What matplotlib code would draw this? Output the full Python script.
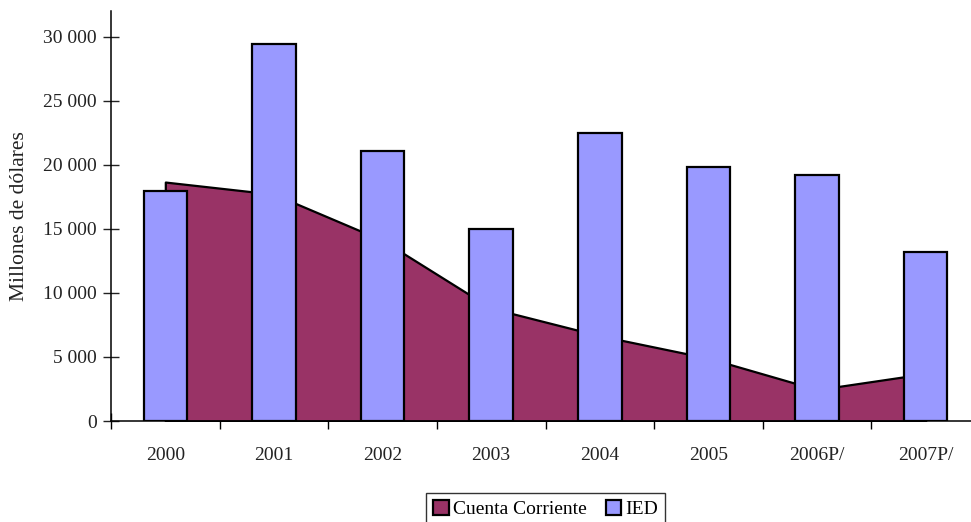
import matplotlib.pyplot as plt
from matplotlib.patches import Patch
import numpy as np

years = ['2000', '2001', '2002', '2003', '2004', '2005', '2006P/', '2007P/']
cuenta_corriente = [18650, 17700, 14100, 8800, 6650, 4900, 2450, 3700]
ied = [17930, 29420, 21100, 14980, 22450, 19860, 19210, 13160]
y_ticks = [0, 5000, 10000, 15000, 20000, 25000, 30000]

plt.rcParams['font.family'] = ['Liberation Serif', 'DejaVu Serif']

fig = plt.figure(figsize=(9.71, 5.22), dpi=100)
# the plot area runs a little past the right edge of the picture
ax = fig.add_axes([111 / 971, 101 / 522, 869 / 971, 410 / 522])

x = np.arange(len(years))
ax.fill_between(x, 0, cuenta_corriente, facecolor='#993366', edgecolor='black',
                linewidth=1.6, zorder=2)
ax.bar(x, ied, width=0.4, color='#9999FF', edgecolor='black', linewidth=1.6, zorder=3)

ax.set_xlim(-0.5, len(years) - 0.5)
ax.set_ylim(0, 32000)

ax.set_yticks(y_ticks)
ax.set_yticklabels(['{:,}'.format(v).replace(',', ' ') for v in y_ticks])
ax.set_xticks(np.arange(-0.5, len(years)), minor=False)
ax.set_xticklabels([])
ax.set_xticks(x, minor=True)
ax.set_xticklabels(years, minor=True)

ax.tick_params(axis='y', direction='inout', length=12, width=1, labelsize=14,
               pad=4, colors='#222222', labelcolor='#222222')
ax.tick_params(axis='x', which='major', direction='inout', length=12, width=1)
ax.tick_params(axis='x', which='minor', length=0, labelsize=14, pad=19,
               labelcolor='#222222')

for s in ['top', 'right']:
    ax.spines[s].set_visible(False)
for s in ['left', 'bottom']:
    ax.spines[s].set_linewidth(1.1)

ax.set_ylabel('Millones de dólares', fontsize=15.5, labelpad=10, color='#222222')

handles = [Patch(facecolor='#993366', edgecolor='black', linewidth=1.6),
           Patch(facecolor='#9999FF', edgecolor='black', linewidth=1.6)]
leg = ax.legend(handles, ['Cuenta Corriente', 'IED'], loc='upper center',
                bbox_to_anchor=(0.5, -0.176), ncol=2, fontsize=14, frameon=True,
                fancybox=False, edgecolor='black', handlelength=0.8, handleheight=0.8,
                handletextpad=0.2, columnspacing=1.0, borderpad=0.35,
                borderaxespad=0)
leg.get_frame().set_linewidth(1.0)

fig.savefig('out.png', dpi=100)
